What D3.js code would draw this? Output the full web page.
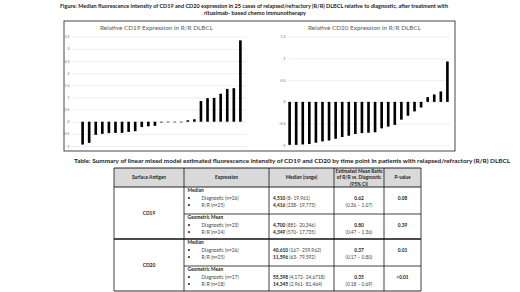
<!DOCTYPE html>
<html>
<head>
<meta charset="utf-8">
<script src="https://cdn.jsdelivr.net/npm/d3@7"></script>
<style>
  body { margin: 0; background: #fff; }
  svg { display: block; font-family: Lato, "Liberation Sans", sans-serif; }
</style>
</head>
<body>
<div id="chart"></div>
<script>
// cases, sorted by relative change (R/R vs diagnostic)
var cases = ["1","2","3","4","5","6","7","8","9","10","11","12","13","14","15","16","17","18","19","20","21","22","23","24","25"];
var cd19Values = [-0.94, -0.87, -0.54, -0.50, -0.47, -0.46, -0.46, -0.42, -0.39, -0.22, -0.19, -0.17,
                  -0.03, -0.02, -0.02, -0.01, 0.06, 0.10, 0.85, 0.97, 0.98, 1.15, 1.35, 1.38, 3.35];
var cd20Values = [-0.99, -0.99, -0.98, -0.97, -0.94, -0.91, -0.89, -0.85, -0.81, -0.78, -0.74, -0.72,
                  -0.71, -0.70, -0.61, -0.57, -0.53, -0.41, -0.32, -0.22, -0.13, 0.11, 0.17, 0.24, 0.93];
var cd19Ticks = [-1, -0.5, 0, 0.5, 1, 1.5, 2, 2.5, 3, 3.5];
var cd20Ticks = [-1, -0.5, 0, 0.5, 1, 1.5];

var figTitle = ["Figure: Median fluorescence intensity of CD19 and CD20 expression in 25 cases of relapsed/refractory (R/R) DLBCL relative to diagnostic, after treatment with",
                "rituximab- based chemo immunotherapy"];
var tableTitle = "Table: Summary of linear mixed model estimated fluorescence intensity of CD19 and CD20 by time point in patients with relapsed/refractory (R/R) DLBCL";

// table
var tblHeader = [["Surface Antigen"], ["Expression"], ["Median (range)"], ["Estimated Mean Ratio", "of R/R vs. Diagnostic", "(95% CI)"], ["P-value"]];
var tblAntigen = ["CD19", "CD20"];
var tblMeasure = ["Median", "Geometric Mean", "Median", "Geometric Mean"];
var tblDiag = ["Diagnostic (n=26)", "Diagnostic (n=23)", "Diagnostic (n=26)", "Diagnostic (n=17)"];
var tblRR = ["R/R (n=25)", "R/R (n=24)", "R/R (n=25)", "R/R (n=18)"];
var tblDiagMed = ["4,510", "4,700", "40,610", "55,398"];
var tblDiagRange = [" (8- 19,961)", " (881- 20,346)", " (167- 259,962)", " (4,172- 24,6718)"];
var tblRRMed = ["4,416", "4,349", "11,596", "14,345"];
var tblRRRange = [" (238- 19,773)", " (570- 17,735)", " (63- 79,592)", " (2,961- 81,464)"];
var tblRatio = ["0.62", "0.80", "0.37", "0.35"];
var tblCI = ["(0.36 \u2013 1.07)", "(0.47 \u2013 1.36)", "(0.17 \u2013 0.80)", "(0.18 \u2013 0.69)"];
var tblP = ["0.08", "0.39", "0.01", "<0.01"];

var W = 520, H = 292;
var svg = d3.select("#chart").append("svg")
    .attr("width", W)
    .attr("height", H);

// figure title
var figTitleLen = [388, 102];
svg.selectAll(".figtitle")
    .data(figTitle)
    .enter().append("text")
    .attr("class", "figtitle")
    .attr("x", function(d, i) { return i ? 204 : 60; })
    .attr("y", function(d, i) { return 7.6 + i * 7.6; })
    .attr("textLength", function(d, i) { return figTitleLen[i]; })
    .attr("lengthAdjust", "spacingAndGlyphs")
    .style("font-size", "5.4px")
    .style("font-weight", "bold")
    .attr("fill", "#222")
    .text(function(d) { return d; });

// box round both charts
svg.append("rect")
    .attr("x", 64).attr("y", 21)
    .attr("width", 391).attr("height", 130)
    .attr("fill", "none")
    .attr("stroke", "#333")
    .attr("stroke-width", 0.9);

function drawChart(opts)
{
    var x = d3.scaleBand()
        .domain(cases)
        .range([opts.x0, opts.x1])
        .paddingInner(0.6)
        .paddingOuter(0.5);

    var y = d3.scaleLinear()
        .domain(opts.domain)
        .range([opts.yBottom, 36.7]);

    var g = svg.append("g");

    // gridlines + labels
    g.append("g")
        .attr("transform", "translate(" + opts.gx0 + ",0)")
        .call(d3.axisLeft(y).tickValues(opts.ticks).tickSize(-(opts.gx1 - opts.gx0)).tickFormat(d3.format("")))
        .call(function(a) {
            a.select(".domain").remove();
            a.selectAll(".tick line").attr("stroke", "#dcdcdc").attr("stroke-width", 0.5);
            a.selectAll(".tick text")
                .attr("x", -2.5)
                .attr("fill", "#666")
                .style("font-size", "3.5px")
                .style("font-family", "Lato, sans-serif");
        });

    g.selectAll(".bar")
        .data(opts.values)
        .enter().append("rect")
        .attr("class", "bar")
        .attr("x", function(d, i) { return x(cases[i]); })
        .attr("width", x.bandwidth())
        .attr("y", function(d) { return y(Math.max(0, d)); })
        .attr("height", function(d) { return Math.max(0.6, Math.abs(y(d) - y(0))); })
        .attr("fill", "#000");

    g.append("text")
        .attr("x", opts.titleX)
        .attr("y", 30.2)
        .attr("textLength", 113)
        .attr("lengthAdjust", "spacingAndGlyphs")
        .style("font-size", "5.6px")
        .attr("fill", "#595959")
        .text(opts.title);
}

drawChart({ values: cd19Values, ticks: cd19Ticks, domain: [-1, 3.5], yBottom: 146,
            x0: 78, x1: 245, gx0: 72, gx1: 247, titleX: 100,
            title: "Relative CD19 Expression in R/R DLBCL" });
drawChart({ values: cd20Values, ticks: cd20Ticks, domain: [-1, 1.5], yBottom: 145.3,
            x0: 285, x1: 452, gx0: 288, gx1: 450, titleX: 308,
            title: "Relative CD20 Expression in R/R DLBCL" });

// table title
svg.append("text")
    .attr("x", 74)
    .attr("y", 162.8)
    .attr("textLength", 436)
    .attr("lengthAdjust", "spacingAndGlyphs")
    .style("font-size", "5.4px")
    .style("font-weight", "bold")
    .attr("fill", "#222")
    .text(tableTitle);

var colX = [114, 184, 269, 334, 384, 421];
var tTop = 168, tHead = 187, tBottom = 291;
var subTop = [187, 214, 239, 266];
var fs = "4.8px";

svg.append("rect")
    .attr("x", colX[0]).attr("y", tTop)
    .attr("width", colX[5] - colX[0]).attr("height", tHead - tTop)
    .attr("fill", "#d9d9d9");

// header text
tblHeader.forEach(function(lines, c) {
    var cx = (colX[c] + colX[c + 1]) / 2;
    var y0 = 179.3 - (lines.length - 1) * 3.4;
    svg.selectAll(null)
        .data(lines)
        .enter().append("text")
        .attr("x", cx)
        .attr("y", function(d, i) { return y0 + i * 6.8; })
        .attr("text-anchor", "middle")
        .style("font-size", fs)
        .style("font-weight", "bold")
        .attr("fill", "#222")
        .text(function(d) { return d; });
});

// antigen labels
svg.selectAll(".antigen")
    .data(tblAntigen)
    .enter().append("text")
    .attr("class", "antigen")
    .attr("x", (colX[0] + colX[1]) / 2)
    .attr("y", function(d, i) { return (subTop[i * 2] + (i ? tBottom : subTop[2])) / 2 + 1.6; })
    .attr("text-anchor", "middle")
    .style("font-size", fs)
    .style("font-weight", "bold")
    .attr("fill", "#222")
    .text(function(d) { return d; });

// body rows
tblMeasure.forEach(function(m, r) {
    var t = subTop[r];
    var l1 = t + 12.6, l2 = t + 19.6;
    var row = svg.append("g").style("font-size", fs).attr("fill", "#222");

    row.append("text").attr("x", colX[1] + 3.5).attr("y", t + 5.4)
        .style("font-weight", "bold").text(m);
    [l1, l2].forEach(function(yy, k) {
        row.append("text").attr("x", colX[1] + 3.5).attr("y", yy).text("\u2022");
        row.append("text").attr("x", colX[1] + 17.5).attr("y", yy)
            .attr("fill", "#444").text(k ? tblRR[r] : tblDiag[r]);
    });

    var med = row.append("text").attr("x", 273).attr("y", l1);
    med.append("tspan").style("font-weight", "bold").text(tblDiagMed[r]);
    med.append("tspan").attr("fill", "#444").text(tblDiagRange[r]);
    var med2 = row.append("text").attr("x", 273).attr("y", l2);
    med2.append("tspan").style("font-weight", "bold").text(tblRRMed[r]);
    med2.append("tspan").attr("fill", "#444").text(tblRRRange[r]);

    var rx = (colX[3] + colX[4]) / 2;
    row.append("text").attr("x", rx).attr("y", l1).attr("text-anchor", "middle")
        .style("font-weight", "bold").text(tblRatio[r]);
    row.append("text").attr("x", rx).attr("y", l2).attr("text-anchor", "middle")
        .attr("fill", "#444").text(tblCI[r]);
    row.append("text").attr("x", (colX[4] + colX[5]) / 2).attr("y", l1).attr("text-anchor", "middle")
        .style("font-weight", "bold").text(tblP[r]);
});

// grid lines of the table
var lines = svg.append("g").attr("stroke", "#111").attr("fill", "none");
colX.forEach(function(cx) {
    lines.append("line").attr("x1", cx).attr("x2", cx).attr("y1", tTop).attr("y2", tBottom)
        .attr("stroke-width", 0.8);
});
[tTop, tHead, 239].forEach(function(yy, i) {
    lines.append("line").attr("x1", colX[0]).attr("x2", colX[5]).attr("y1", yy).attr("y2", yy)
        .attr("stroke-width", i == 2 ? 1.4 : 0.9);
});
[214, 266].forEach(function(yy) {
    lines.append("line").attr("x1", colX[1]).attr("x2", colX[5]).attr("y1", yy).attr("y2", yy)
        .attr("stroke-width", 0.8);
});
lines.append("line").attr("x1", colX[0]).attr("x2", colX[5]).attr("y1", tBottom).attr("y2", tBottom)
    .attr("stroke-width", 0.9);
</script>
</body>
</html>
